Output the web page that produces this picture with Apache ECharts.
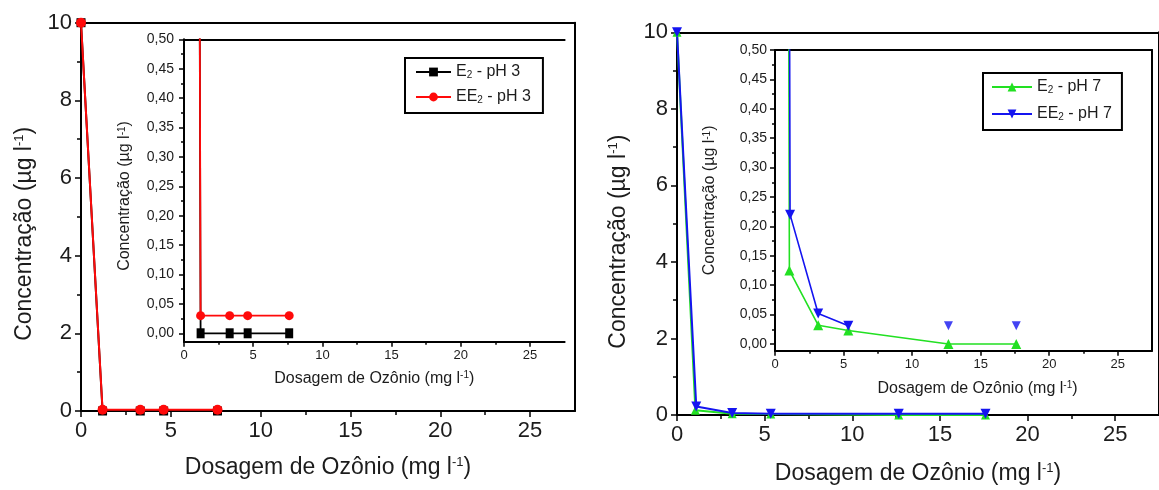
<!DOCTYPE html>
<html><head><meta charset="utf-8">
<script src="https://cdn.jsdelivr.net/npm/echarts@6/dist/echarts.min.js"></script>
<style>html,body{margin:0;padding:0;background:#fff}#c{width:1159px;height:490px}</style>
</head><body><div id="c"></div>
<script>
// ---------------- data ----------------
const seriesNames = ['E₂ - pH 3', 'EE₂ - pH 3', 'E₂ - pH 7', 'EE₂ - pH 7'];
const doseE2pH3  = [0, 1.2, 3.3, 4.6, 7.6];
const concE2pH3  = [10, 0, 0, 0, 0];
const doseEE2pH3 = [0, 1.2, 3.3, 4.6, 7.6];
const concEE2pH3 = [10, 0.03, 0.03, 0.03, 0.03];
const doseE2pH7  = [0, 1.05, 3.15, 5.35, 12.65, 17.6];
const concE2pH7  = [10, 0.125, 0.032, 0.023, 0, 0];
const doseEE2pH7 = [0, 1.1, 3.15, 5.35, 12.65, 17.6];
const concEE2pH7 = [10, 0.22, 0.052, 0.031, 0.031, 0.031];
const insetJoinedEE2pH7 = 4; // points of EE2 pH 7 joined by a line in the inset

const xTicks = [0, 5, 10, 15, 20, 25];
const xTickLabels = ['0', '5', '10', '15', '20', '25'];
const xMinorTicks = [2.5, 7.5, 12.5, 17.5, 22.5];
const mainYTicks = [0, 2, 4, 6, 8, 10];
const mainYTickLabels = ['0', '2', '4', '6', '8', '10'];
const mainYMinorTicks = [1, 3, 5, 7, 9];
const insetYTicks = [0, 0.05, 0.1, 0.15, 0.2, 0.25, 0.3, 0.35, 0.4, 0.45, 0.5];
const insetYTickLabels = ['0,00', '0,05', '0,10', '0,15', '0,20', '0,25', '0,30', '0,35', '0,40', '0,45', '0,50'];
const insetYMinorTicks = [0.025, 0.075, 0.125, 0.175, 0.225, 0.275, 0.325, 0.375, 0.425, 0.475];

const xTitle = 'Dosagem de Ozônio (mg l{sup|-1})';
const yTitle = 'Concentração (µg l{sup|-1})';

// ---------------- chart building ----------------
const FONT = '"Liberation Sans", Arial, Helvetica, sans-serif';
const TXT = '#1c1c1c';
const pts = (xs, ys) => xs.map((x, i) => [x, ys[i]]);
const labelFor = (v, vals, labs) => {
  const i = vals.findIndex(t => Math.abs(t - v) < 1e-9);
  return i >= 0 ? labs[i] : '';
};

const xAxes = [], yAxes = [];
function addAxes(g, o) {
  const xi = xAxes.length, yi = yAxes.length;
  const nameStyle = (fs, sup, pad) => ({
    fontSize: fs, fontFamily: FONT, color: TXT, padding: pad || 0,
    rich: { sup: { fontSize: sup, fontFamily: FONT, color: TXT, verticalAlign: 'top' } }
  });
  xAxes.push({
    type: 'value', gridIndex: g, position: 'bottom', min: 0, max: o.xMax,
    axisLine: { show: true, onZero: false, lineStyle: { color: '#000', width: 2 } },
    axisTick: { show: true, inside: false, length: o.tickLen, customValues: xTicks, lineStyle: { color: '#000', width: 1.5 } },
    minorTick: { show: false },
    axisLabel: { show: true, customValues: xTicks, margin: o.xLabMargin, fontSize: o.xTickFont, fontFamily: FONT, color: TXT,
      formatter: v => labelFor(v, xTicks, xTickLabels) },
    splitLine: { show: false },
    name: xTitle, nameLocation: 'middle', nameGap: o.xNameGap,
    nameTextStyle: nameStyle(o.titleFont, o.supFont, o.xNamePad)
  });
  xAxes.push({
    type: 'value', gridIndex: g, position: 'bottom', min: 0, max: o.xMax,
    axisLine: { show: false, onZero: false },
    axisTick: { show: true, inside: false, length: o.minorLen, customValues: xMinorTicks, lineStyle: { color: '#000', width: 1.5 } },
    axisLabel: { show: false }, splitLine: { show: false }
  });
  xAxes.push({
    type: 'value', gridIndex: g, position: 'top', min: 0, max: o.xMax,
    axisLine: { show: true, onZero: false, lineStyle: { color: '#000', width: 2 } },
    axisTick: { show: false }, axisLabel: { show: false }, splitLine: { show: false }
  });
  yAxes.push({
    type: 'value', gridIndex: g, position: 'left', min: o.yMin, max: o.yMax,
    axisLine: { show: true, onZero: false, lineStyle: { color: '#000', width: 2 } },
    axisTick: { show: true, inside: false, length: o.tickLen, customValues: o.yTicks, lineStyle: { color: '#000', width: 1.5 } },
    minorTick: { show: false },
    axisLabel: { show: true, customValues: o.yTicks, margin: o.yLabMargin, fontSize: o.yTickFont, fontFamily: FONT, color: TXT,
      formatter: v => labelFor(v, o.yTicks, o.yLabels) },
    splitLine: { show: false },
    name: yTitle, nameLocation: 'middle', nameRotate: 90, nameGap: o.yNameGap,
    nameTextStyle: nameStyle(o.titleFont, o.supFont, o.yNamePad)
  });
  yAxes.push({
    type: 'value', gridIndex: g, position: 'left', min: o.yMin, max: o.yMax,
    axisLine: { show: false, onZero: false },
    axisTick: { show: true, inside: false, length: o.minorLen, customValues: o.yMinor, lineStyle: { color: '#000', width: 1.5 } },
    axisLabel: { show: false }, splitLine: { show: false }
  });
  if (o.rightLine) {
    yAxes.push({
      type: 'value', gridIndex: g, position: 'right', min: o.yMin, max: o.yMax,
      axisLine: { show: true, onZero: false, lineStyle: { color: '#000', width: 2 } },
      axisTick: { show: false }, axisLabel: { show: false }, splitLine: { show: false }
    });
  }
  return { x: xi, y: yi };
}

const mainOpt = { xMax: 27.5, yMin: 0, yMax: 10, yTicks: mainYTicks, yLabels: mainYTickLabels, yMinor: mainYMinorTicks,
  tickLen: 6, minorLen: 4, xTickFont: 22, yTickFont: 22, titleFont: 23, supFont: 13, xLabMargin: 9, yLabMargin: 9 };
const insetOpt = { xMax: 27.5, yMax: 0.5, yTicks: insetYTicks, yLabels: insetYTickLabels, yMinor: insetYMinorTicks,
  tickLen: 5, minorLen: 3, xTickFont: 13, yTickFont: 14, titleFont: 16, supFont: 10, xLabMargin: 7 };

const grids = [
  { left: 81, top: 22.7, width: 494, height: 388.3 },
  { left: 184, top: 39.3, width: 380.6, height: 302.4 },
  { left: 677, top: 32.3, width: 492, height: 385 },
  { left: 775, top: 50, width: 377, height: 300.7 }
];

const A0 = addAxes(0, Object.assign({}, mainOpt, { xNameGap: 45, yNameGap: 45, yNamePad: [0, 34, 0, 0], rightLine: true }));
const A1 = addAxes(1, Object.assign({}, insetOpt, { yMin: -0.0143, xNameGap: 29, yNameGap: 51, yLabMargin: 10, yNamePad: [0, 11, 0, 0], rightLine: false }));
const A2 = addAxes(2, Object.assign({}, mainOpt, { xNameGap: 47, yNameGap: 47, yNamePad: [0, 36, 0, 0], rightLine: true }));
const A3 = addAxes(3, Object.assign({}, insetOpt, { yMin: -0.0114, xNameGap: 30, yNameGap: 57, yLabMargin: 8, xNamePad: [0, 0, 0, 28], rightLine: true }));

const RED = '#ff0a0a', BLK = '#000000', GRN = '#22e022', BLU = '#1414f0';
function line(name, A, data, color, symbol, size, rot, width) {
  return {
    type: 'line', name, xAxisIndex: A.x, yAxisIndex: A.y, data, clip: true,
    symbol, symbolSize: size, symbolRotate: rot || 0, showSymbol: true,
    lineStyle: { color, width: width || 1.6 }, itemStyle: { color, borderWidth: 0 },
    emphasis: { disabled: true }, animation: false, z: 3
  };
}

const series = [
  line(seriesNames[0], A0, pts(doseE2pH3, concE2pH3), BLK, 'rect', 9, 0, 2),
  line(seriesNames[1], A0, pts(doseEE2pH3, concEE2pH3), RED, 'circle', 10, 0, 2),
  line(seriesNames[0], A1, pts(doseE2pH3, concE2pH3), BLK, 'rect', [8, 10], 0, 1.8),
  line(seriesNames[1], A1, pts(doseEE2pH3, concEE2pH3), RED, 'circle', 9, 0, 1.8),
  line(seriesNames[2], A2, pts(doseE2pH7, concE2pH7), GRN, 'triangle', 9, 0, 2),
  line(seriesNames[3], A2, pts(doseEE2pH7, concEE2pH7), BLU, 'triangle', 10, 180, 2),
  line(seriesNames[2], A3, pts(doseE2pH7, concE2pH7), GRN, 'triangle', 10, 0, 1.6),
  line(seriesNames[3], A3, pts(doseEE2pH7, concEE2pH7).slice(0, insetJoinedEE2pH7), BLU, 'triangle', 10, 180, 1.6),
  Object.assign(line(seriesNames[3], A3, pts(doseEE2pH7, concEE2pH7).slice(insetJoinedEE2pH7), BLU, 'triangle', 9, 180, 1.6),
    { type: 'scatter' })
];
series[8].lineStyle = undefined;

function legend(names, left, top, pad, w, gap) {
  return {
    data: names, orient: 'vertical', left, top, padding: pad, itemWidth: w, itemHeight: 11, itemGap: gap,
    backgroundColor: '#fff', borderColor: '#000', borderWidth: 2, borderRadius: 0, selectedMode: false,
    formatter: n => n.replace('₂', '{sub|2}'),
    textStyle: { fontSize: 16, fontFamily: FONT, color: TXT,
      rich: { sub: { fontSize: 10, fontFamily: FONT, color: TXT, verticalAlign: 'bottom' } } }
  };
}

const chart = echarts.init(document.getElementById('c'), null, { renderer: 'canvas' });
chart.setOption({
  backgroundColor: '#ffffff',
  animation: false,
  grid: grids,
  xAxis: xAxes,
  yAxis: yAxes,
  legend: [
    legend([seriesNames[0], seriesNames[1]], 405, 58, [6, 12, 8, 10], 35, 9),
    legend([seriesNames[2], seriesNames[3]], 983, 73, [6, 10, 8, 8], 40, 11)
  ],
  series
});
</script></body></html>
